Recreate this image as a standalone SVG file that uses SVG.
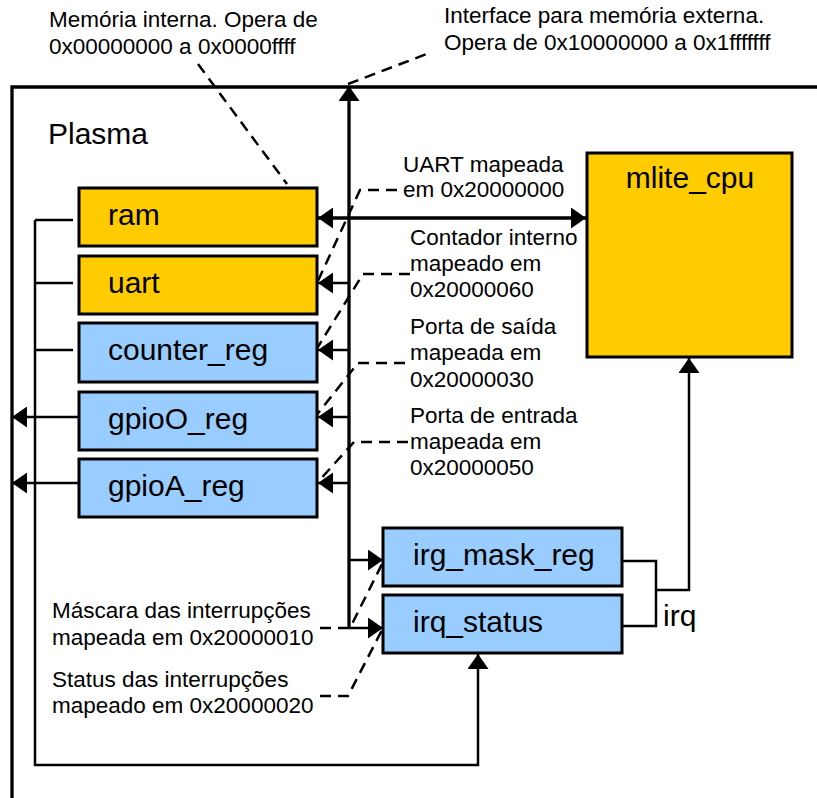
<svg xmlns="http://www.w3.org/2000/svg" width="817" height="798" viewBox="0 0 817 798">
<style>
.box{stroke:#000;stroke-width:3}
.y{fill:#FFCC00}
.b{fill:#99CCFF}
.lbl{font-family:"Liberation Sans",Arial,sans-serif;font-size:30px;fill:#000}
.ann{font-family:"Liberation Sans",Arial,sans-serif;font-size:22.5px;fill:#000}
.w{fill:none;stroke:#000;stroke-width:2.5}
.bus{fill:none;stroke:#000;stroke-width:3.3}
.d{fill:none;stroke:#000;stroke-width:2.5;stroke-dasharray:11 7}
</style>
<defs>
<marker id="ah" markerUnits="userSpaceOnUse" markerWidth="15" markerHeight="21" refX="15" refY="10.5" orient="auto-start-reverse" viewBox="0 0 15 21">
<path d="M0,0 L15,10.5 L0,21 z" fill="#000"/>
</marker>
</defs>
<rect width="817" height="798" fill="#fff"/>
<g id="frame">
<path class="bus" d="M12,798 V87 H817"/>
<text class="lbl" x="48" y="144">Plasma</text>
</g>
<g id="connectors">
<path class="bus" d="M349,628 V86" marker-end="url(#ah)"/>
<path class="bus" d="M318,218 H586" marker-start="url(#ah)" marker-end="url(#ah)"/>
<path class="w" d="M349,283 H318" marker-end="url(#ah)"/>
<path class="w" d="M349,350 H318" marker-end="url(#ah)"/>
<path class="w" d="M349,417 H318" marker-end="url(#ah)"/>
<path class="w" d="M349,483 H318" marker-end="url(#ah)"/>
<path class="w" d="M349,560 H383" marker-end="url(#ah)"/>
<path class="w" d="M349,628 H383" marker-end="url(#ah)"/>
<path class="w" d="M79,417 H12" marker-end="url(#ah)"/>
<path class="w" d="M79,483 H12" marker-end="url(#ah)"/>
<path class="w" d="M35,220 H73 M35,283 H73 M35,350 H73"/>
<path class="w" d="M35,220 V765 H478 V654" marker-end="url(#ah)"/>
<path class="w" d="M622,561 H656 V626 H622"/>
<path class="w" d="M656,590 H689 V358" marker-end="url(#ah)"/>
<path class="d" d="M198,64 L287,184"/>
<path class="d" d="M348,84 L432,52"/>
<path class="d" d="M397,190 H360 L317,283"/>
<path class="d" d="M410,274 H363 L316,350"/>
<path class="d" d="M405,363 H358 L315,417"/>
<path class="d" d="M408,442 H354 L317,483"/>
<path class="d" d="M320,628 H350 L383,562"/>
<path class="d" d="M320,696 H348 L383,628"/>
</g>
<g id="ram"><rect class="box y" x="79" y="188" width="238" height="58"/><text class="lbl" x="108" y="225">ram</text></g>
<g id="uart"><rect class="box y" x="79" y="256" width="238" height="58"/><text class="lbl" x="108" y="293">uart</text></g>
<g id="counter_reg"><rect class="box b" x="79" y="323" width="238" height="59"/><text class="lbl" x="108" y="360">counter_reg</text></g>
<g id="gpioO_reg"><rect class="box b" x="79" y="392" width="238" height="58"/><text class="lbl" x="108" y="429">gpioO_reg</text></g>
<g id="gpioA_reg"><rect class="box b" x="79" y="459" width="238" height="58"/><text class="lbl" x="108" y="496">gpioA_reg</text></g>
<g id="mlite_cpu"><rect class="box y" x="587" y="153" width="205" height="204"/><text class="lbl" x="690" y="188" text-anchor="middle">mlite_cpu</text></g>
<g id="irg_mask_reg"><rect class="box b" x="383" y="528" width="239" height="58"/><text class="lbl" x="413" y="565">irg_mask_reg</text></g>
<g id="irq_status"><rect class="box b" x="383" y="595" width="239" height="58"/><text class="lbl" x="413" y="632">irq_status</text></g>
<g id="labels">
<text class="lbl" x="663" y="626">irq</text>
<text class="ann" x="49" y="27">Memória interna. Opera de</text>
<text class="ann" x="49" y="54">0x00000000 a 0x0000ffff</text>
<text class="ann" x="444" y="23">Interface para memória externa.</text>
<text class="ann" x="444" y="50">Opera de 0x10000000 a 0x1fffffff</text>
<text class="ann" x="403" y="172">UART mapeada</text>
<text class="ann" x="403" y="197">em 0x20000000</text>
<text class="ann" x="410" y="245">Contador interno</text>
<text class="ann" x="410" y="271">mapeado em</text>
<text class="ann" x="410" y="297">0x20000060</text>
<text class="ann" x="410" y="334">Porta de saída</text>
<text class="ann" x="410" y="360">mapeada em</text>
<text class="ann" x="410" y="387">0x20000030</text>
<text class="ann" x="410" y="423">Porta de entrada</text>
<text class="ann" x="410" y="449">mapeada em</text>
<text class="ann" x="410" y="475">0x20000050</text>
<text class="ann" x="52" y="618">Máscara das interrupções</text>
<text class="ann" x="52" y="645">mapeada em 0x20000010</text>
<text class="ann" x="52" y="687">Status das interrupções</text>
<text class="ann" x="52" y="713">mapeado em 0x20000020</text>
</g>
</svg>
